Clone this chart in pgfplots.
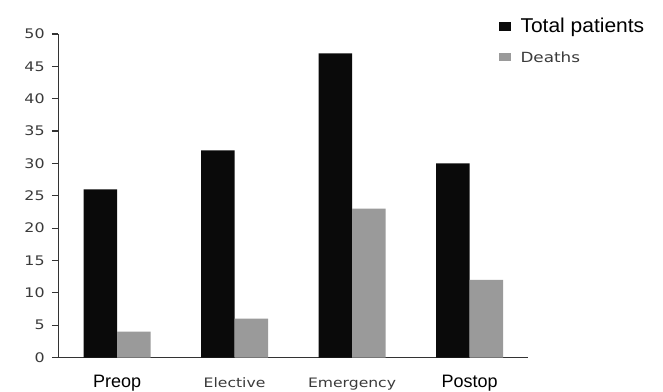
\documentclass[border=0pt]{standalone}
\usepackage{pgfplots}
\pgfplotsset{compat=1.18}
\usepackage{fontspec}
\setmainfont{Liberation Sans}
\newfontfamily\widefont[FakeStretch=1.05]{Liberation Sans}
\newfontfamily\pixfont[FakeStretch=1.2]{DejaVu Sans}
\definecolor{barblack}{HTML}{0A0A0A}
\definecolor{bargray}{HTML}{9A9A9A}
\definecolor{axisgray}{HTML}{333333}
\definecolor{textgray}{HTML}{3A3A3A}
\newcommand\tickfont{\pixfont\fontsize{13.2bp}{15bp}\selectfont}
\newcommand\bigcat{\fontsize{18bp}{21bp}\selectfont}
\newcommand\smallcat{\pixfont\fontsize{13bp}{15bp}\selectfont\color{textgray}}

\begin{document}
\begin{tikzpicture}
\begin{axis}[
  at={(58.3bp,34.5bp)}, anchor=south west,
  scale only axis, width=470bp, height=323.5bp,
  xmin=-0.5, xmax=3.5, ymin=0, ymax=50,
  axis x line*=bottom, axis y line*=left,
  axis line style={axisgray, line width=1.3bp},
  ytick={0,5,...,50},
  xtick={0,1,2,3},
  xticklabels={{\bigcat Preop},{\smallcat Elective},{\smallcat Emergency},{\bigcat Postop}},
  tick align=outside,
  major tick length=6.5bp,
  ytick style={axisgray, line width=1.2bp},
  xtick style={draw=none},
  yticklabel style={font=\tickfont, text=textgray, anchor=east, inner sep=0pt, xshift=-7bp},
  /pgf/number format/assume math mode=true,
  xticklabel style={anchor=base, inner sep=0pt, yshift=-23bp},
  ybar=0pt, bar width=33.5bp,
  legend style={at={(axis description cs:0.9362,1.0495)}, anchor=north west,
    draw=none, fill=none, inner sep=0pt, column sep=8bp, row sep=13bp,
    cells={anchor=base west, inner sep=0pt, text height=12bp, text depth=4bp}},
]
\addplot[fill=barblack, draw=none,
  legend image code/.code={\fill[barblack] (0bp,0.7bp) rectangle (12bp,10bp);}]
  coordinates {(0,26) (1,32) (2,47) (3,30)};
\addlegendentry{\widefont\fontsize{20bp}{24bp}\selectfont Total patients}
\addplot[fill=bargray, draw=none,
  legend image code/.code={\fill[bargray] (0bp,1.3bp) rectangle (12bp,10bp);}]
  coordinates {(0,4) (1,6) (2,23) (3,12)};
\addlegendentry{\pixfont\fontsize{14bp}{16bp}\selectfont\color{textgray}Deaths}
\end{axis}
\pgfresetboundingbox
\path[use as bounding box] (0,0) rectangle (663bp,392bp);
\end{tikzpicture}
\end{document}
